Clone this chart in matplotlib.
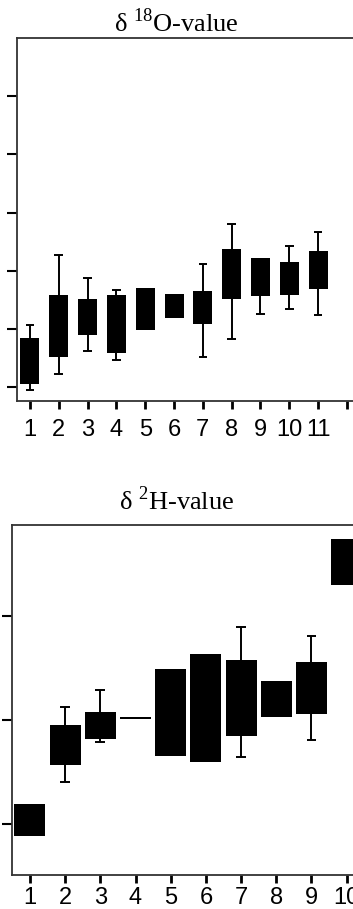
import numpy as np
import matplotlib
matplotlib.use("Agg")
import matplotlib.pyplot as plt

plt.rcParams["font.family"] = ["Liberation Sans", "DejaVu Sans"]
plt.rcParams["mathtext.fontset"] = "custom"
plt.rcParams["mathtext.rm"] = "Liberation Serif"

# delta 18O panel (arbitrary units, ticks at 0..5)
o_groups = np.arange(1, 12)
o_q1 = [0.06, 0.51, 0.90, 0.59, 0.98, 1.19, 1.09, 1.52, 1.56, 1.58, 1.69]
o_q3 = [0.84, 1.58, 1.52, 1.58, 1.71, 1.60, 1.65, 2.38, 2.22, 2.15, 2.34]
o_lo = [-0.05, 0.23, 0.62, 0.47, np.nan, np.nan, 0.52, 0.83, 1.26, 1.34, 1.24]
o_hi = [1.07, 2.27, 1.88, 1.67, np.nan, np.nan, 2.12, 2.80, np.nan, 2.43, 2.67]

# delta 2H panel (arbitrary units, ticks at 0..2)
h_groups = np.arange(1, 11)
h_q1 = [-0.11, 0.57, 0.82, 1.015, 0.66, 0.60, 0.85, 1.03, 1.06, 2.30]
h_q3 = [0.19, 0.95, 1.08, 1.035, 1.49, 1.64, 1.58, 1.38, 1.56, 2.75]
h_lo = [np.nan, 0.41, 0.79, np.nan, np.nan, np.nan, 0.65, np.nan, 0.81, np.nan]
h_hi = [np.nan, 1.13, 1.29, np.nan, np.nan, np.nan, 1.90, np.nan, 1.81, np.nan]

fig = plt.figure(figsize=(3.53, 9.09), dpi=100)


def draw_panel(ax, x, q1, q3, lo, hi, width, cap, pad):
    q1 = np.array(q1)
    q3 = np.array(q3)
    ax.bar(x, q3 - q1, bottom=q1, width=width, color="black", zorder=3)
    for xi, a, b, l, h in zip(x, q1, q3, lo, hi):
        if not np.isnan(h):
            ax.vlines(xi, b, h, color="black", lw=1.4)
            ax.hlines(h, xi - cap / 2, xi + cap / 2, color="black", lw=1.4)
        if not np.isnan(l):
            ax.vlines(xi, l, a, color="black", lw=1.4)
            ax.hlines(l, xi - cap / 2, xi + cap / 2, color="black", lw=1.4)
    ax.spines["right"].set_visible(False)
    for s in ["left", "top", "bottom"]:
        ax.spines[s].set_linewidth(1.3)
        ax.spines[s].set_color("#333333")
    ax.tick_params(axis="x", direction="out", length=6, width=2,
                   labelsize=17, pad=pad)
    ax.tick_params(axis="y", direction="out", length=7, width=1.5,
                   labelleft=False)


def serif_title(sup, rest, y_px):
    fig.text(0.5, 1 - y_px / 909, r"δ $^{\mathregular{%s}}$%s" % (sup, rest),
             fontsize=19, family="Liberation Serif", ha="center", va="baseline")


ax1 = fig.add_axes([17 / 353, 1 - 401 / 909, 1 - 17 / 353, (401 - 38) / 909])
draw_panel(ax1, o_groups, o_q1, o_q3, o_lo, o_hi, 0.66, 0.3, 7)
ax1.set_xlim(0.55, 12.21)
ax1.set_ylim(-0.24, 6.0)
ax1.set_xticks(np.arange(1, 13))
ax1.set_xticklabels([str(i) for i in range(1, 12)] + [""])
ax1.set_yticks(np.arange(0, 6))
serif_title("18", "O-value", 32)

ax2 = fig.add_axes([12 / 353, 1 - 875 / 909, 1 - 12 / 353, (875 - 525) / 909])
draw_panel(ax2, h_groups, h_q1, h_q3, h_lo, h_hi, 0.88, 0.28, 3)
ax2.set_xlim(0.49, 10.18)
ax2.set_ylim(-0.49, 2.88)
ax2.set_xticks(np.arange(1, 11))
ax2.set_yticks([0, 1, 2])
serif_title("2", "H-value", 510)

fig.savefig("out.png", dpi=100)
